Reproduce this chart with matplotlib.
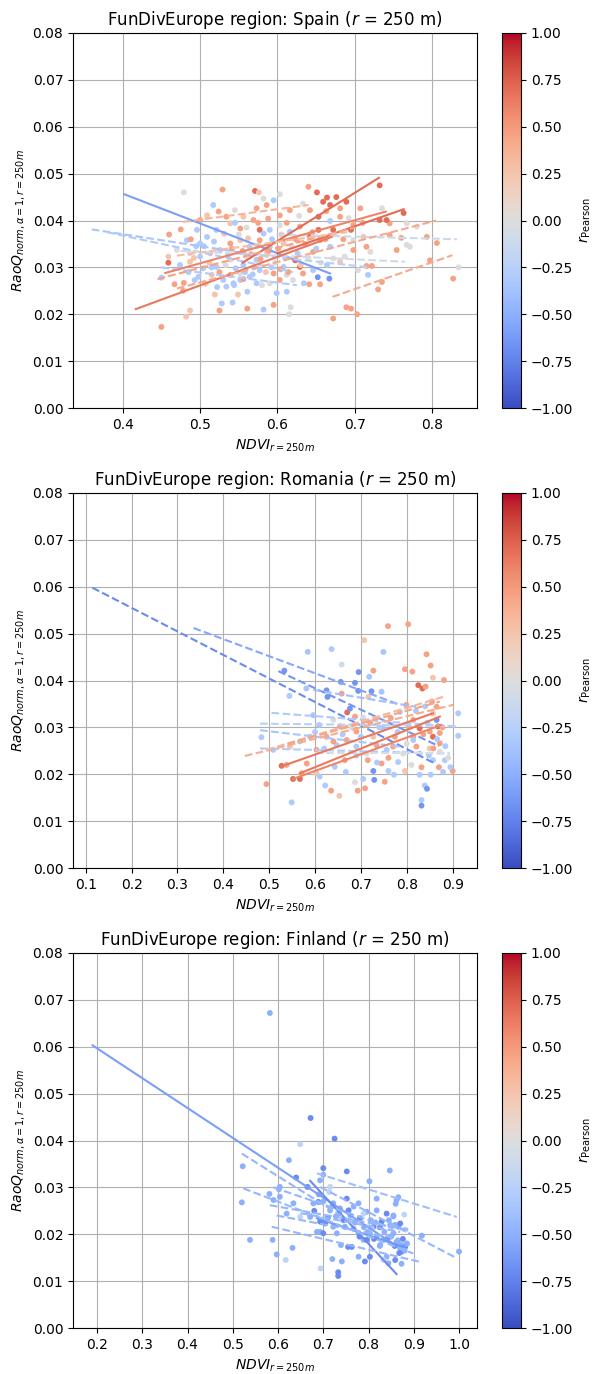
import matplotlib
matplotlib.use("Agg")
import matplotlib.pyplot as plt
import numpy as np
from matplotlib import cm, colors

# ---------------- DATA ----------------
titles = ["FunDivEurope region: Spain ($r$ = 250 m)",
          "FunDivEurope region: Romania ($r$ = 250 m)",
          "FunDivEurope region: Finland ($r$ = 250 m)"]
xlims = [(0.3358, 0.8578), (0.0723, 0.953), (0.1468, 1.0398)]
xticks = [[0.4, 0.5, 0.6, 0.7, 0.8],
          [0.1, 0.2, 0.3, 0.4, 0.5, 0.6, 0.7, 0.8, 0.9],
          [0.2, 0.3, 0.4, 0.5, 0.6, 0.7, 0.8, 0.9, 1.0]]
yticks = [0.00, 0.01, 0.02, 0.03, 0.04, 0.05, 0.06, 0.07, 0.08]
cbar_ticks = [-1.0, -0.75, -0.5, -0.25, 0.0, 0.25, 0.5, 0.75, 1.0]

# Spain points
spain_x = [0.479, 0.529, 0.571, 0.576, 0.603, 0.640, 0.651, 0.664, 0.676, 0.689, 0.659, 0.668, 0.732, 0.763,
           0.707, 0.735, 0.681, 0.767, 0.745, 0.741, 0.732, 0.760, 0.767, 0.771, 0.806, 0.797, 0.834, 0.827,
           0.715, 0.720, 0.715, 0.722, 0.704, 0.717, 0.735, 0.730, 0.689, 0.695, 0.703, 0.672, 0.450, 0.482,
           0.487, 0.525, 0.561, 0.582, 0.595, 0.615, 0.617, 0.528, 0.542, 0.519, 0.549, 0.561, 0.599, 0.612,
           0.634, 0.655, 0.641, 0.652, 0.667, 0.623, 0.629, 0.459, 0.460, 0.475, 0.459, 0.450, 0.467, 0.479,
           0.493, 0.478, 0.517, 0.524, 0.545, 0.556, 0.582, 0.595, 0.586, 0.616, 0.633, 0.642, 0.653, 0.668,
           0.681, 0.692, 0.698, 0.672, 0.653, 0.642, 0.655, 0.668, 0.646, 0.672, 0.687, 0.664, 0.681, 0.608,
           0.595, 0.612, 0.577, 0.564, 0.552, 0.539, 0.530, 0.543, 0.515, 0.504, 0.500, 0.487, 0.487, 0.474,
           0.509, 0.521, 0.539, 0.552, 0.569, 0.577, 0.588, 0.603, 0.616, 0.629, 0.625, 0.608, 0.590, 0.577,
           0.564, 0.552, 0.539, 0.526, 0.513, 0.560, 0.573, 0.586, 0.556, 0.539, 0.521, 0.534, 0.552, 0.573,
           0.590, 0.603, 0.620, 0.633, 0.646, 0.500, 0.509, 0.534, 0.496, 0.483, 0.500, 0.470, 0.573, 0.603,
           0.754, 0.745, 0.780, 0.793, 0.698, 0.711, 0.698,
           0.505, 0.512, 0.518, 0.525, 0.531, 0.536, 0.541, 0.546, 0.550, 0.555, 0.558, 0.562, 0.566, 0.570,
           0.574, 0.578, 0.582, 0.585, 0.589, 0.593, 0.597, 0.601, 0.605, 0.610, 0.614, 0.618, 0.622, 0.626,
           0.630, 0.636, 0.640, 0.645, 0.650, 0.656, 0.662, 0.498, 0.507, 0.515, 0.522, 0.533, 0.544, 0.556,
           0.568, 0.580, 0.592, 0.604, 0.485, 0.492, 0.495, 0.488, 0.545, 0.560, 0.575, 0.590, 0.612, 0.628,
           0.663, 0.685, 0.695, 0.710]
spain_y = [0.0460, 0.0466, 0.0463, 0.0460, 0.0456, 0.0472, 0.0460, 0.0449, 0.0450, 0.0440, 0.0440, 0.0433, 0.0475, 0.0416,
           0.0426, 0.0426, 0.0426, 0.0394, 0.0394, 0.0401, 0.0401, 0.0363, 0.0348, 0.0344, 0.0352, 0.0315, 0.0300, 0.0276,
           0.0344, 0.0333, 0.0303, 0.0303, 0.0294, 0.0284, 0.0269, 0.0253, 0.0215, 0.0212, 0.0200, 0.0191, 0.0173, 0.0195,
           0.0208, 0.0208, 0.0212, 0.0210, 0.0220, 0.0200, 0.0215, 0.0223, 0.0225, 0.0242, 0.0242, 0.0248, 0.0245, 0.0248,
           0.0266, 0.0264, 0.0264, 0.0279, 0.0276, 0.0315, 0.0301, 0.0310, 0.0370, 0.0381, 0.0323, 0.0278, 0.0264, 0.0267,
           0.0273, 0.0250, 0.0433, 0.0419, 0.0422, 0.0408, 0.0447, 0.0443, 0.0433, 0.0422, 0.0436, 0.0422, 0.0408, 0.0399,
           0.0408, 0.0405, 0.0390, 0.0380, 0.0380, 0.0366, 0.0358, 0.0344, 0.0333, 0.0319, 0.0323, 0.0305, 0.0312, 0.0301,
           0.0287, 0.0284, 0.0294, 0.0280, 0.0287, 0.0284, 0.0273, 0.0266, 0.0284, 0.0298, 0.0323, 0.0330, 0.0312, 0.0305,
           0.0365, 0.0380, 0.0394, 0.0383, 0.0401, 0.0380, 0.0404, 0.0390, 0.0376, 0.0387, 0.0358, 0.0351, 0.0344, 0.0358,
           0.0344, 0.0358, 0.0351, 0.0337, 0.0330, 0.0323, 0.0316, 0.0327, 0.0305, 0.0316, 0.0301, 0.0259, 0.0273, 0.0266,
           0.0266, 0.0273, 0.0273, 0.0287, 0.0294, 0.0401, 0.0411, 0.0408, 0.0380, 0.0358, 0.0351, 0.0337, 0.0426, 0.0411,
           0.0337, 0.0369, 0.0387, 0.0365, 0.0358, 0.0365, 0.0337,
           0.0345, 0.0310, 0.0355, 0.0290, 0.0372, 0.0325, 0.0340, 0.0298, 0.0370, 0.0335, 0.0290, 0.0362, 0.0328, 0.0300,
           0.0345, 0.0318, 0.0372, 0.0290, 0.0335, 0.0360, 0.0310, 0.0340, 0.0370, 0.0320, 0.0290, 0.0345, 0.0362, 0.0330,
           0.0305, 0.0350, 0.0320, 0.0375, 0.0340, 0.0310, 0.0360, 0.0280, 0.0265, 0.0300, 0.0258, 0.0305, 0.0262, 0.0275,
           0.0285, 0.0262, 0.0300, 0.0296, 0.0290, 0.0320, 0.0345, 0.0360, 0.0395, 0.0385, 0.0395, 0.0380, 0.0395, 0.0410,
           0.0420, 0.0360, 0.0380, 0.0395]
spain_r = [0.0, 0.45, 0.7, 0.25, 0.0, 0.45, 0.7, 0.7, 0.7, 0.7, 0.7, 0.7, 0.7, 0.7,
           0.45, 0.0, 0.45, 0.0, 0.45, 0.7, 0.7, 0.45, 0.0, 0.0, 0.45, 0.45, 0.0, 0.45,
           0.45, 0.0, 0.45, 0.45, 0.0, -0.3, 0.45, 0.45, 0.45, 0.45, 0.45, 0.45, 0.45, 0.25,
           0.25, 0.45, 0.45, -0.3, 0.45, 0.0, 0.0, -0.3, -0.3, 0.25, 0.25, -0.3, -0.3, -0.3,
           -0.3, 0.45, 0.45, -0.65, -0.65, 0.7, 0.7, 0.7, 0.45, 0.45, 0.25, -0.3, 0.45, 0.45,
           -0.3, 0.45, -0.3, 0.45, 0.0, 0.25, 0.0, -0.3, 0.45, 0.45, 0.0, 0.45, 0.7, -0.3,
           0.45, 0.0, 0.45, 0.7, 0.7, 0.7, 0.45, -0.3, 0.45, 0.0, 0.0, -0.3, 0.25, -0.3,
           0.45, 0.0, -0.3, -0.3, 0.0, 0.45, -0.3, -0.3, 0.25, -0.3, -0.3, 0.0, 0.25, -0.3,
           -0.3, -0.3, 0.25, 0.45, 0.45, 0.7, 0.45, 0.0, -0.3, 0.45, 0.45, 0.25, -0.3, 0.45,
           -0.3, 0.25, 0.45, -0.3, 0.25, 0.0, -0.3, 0.25, -0.3, 0.0, -0.3, -0.3, -0.3, -0.3,
           0.0, 0.45, 0.0, 0.45, -0.3, 0.45, 0.25, 0.45, -0.3, -0.3, -0.3, 0.0, 0.45, 0.45,
           0.45, 0.45, 0.0, 0.45, 0.0, 0.25, 0.45,
           -0.3, 0.25, -0.3, 0.45, 0.25, -0.3, 0.45, -0.3, 0.0, 0.45, -0.3, 0.25, 0.45, -0.3,
           0.0, 0.45, -0.3, 0.25, 0.45, -0.3, 0.0, 0.45, 0.25, -0.3, 0.45, 0.0, 0.45, -0.3,
           0.25, 0.45, 0.0, 0.45, -0.3, 0.0, 0.45, -0.3, 0.25, -0.3, -0.3, 0.0, -0.3, 0.45,
           -0.3, 0.0, -0.3, 0.45, -0.3, 0.25, -0.3, 0.45, -0.3, 0.0, 0.45, -0.3, 0.45, 0.0,
           0.45, 0.45, 0.7, 0.45]

# Spain regression lines
spain_lx0 = [0.402, 0.360, 0.380, 0.450, 0.475, 0.600, 0.550, 0.417, 0.555, 0.455, 0.600, 0.445, 0.470, 0.671, 0.478, 0.470]
spain_ly0 = [0.0456, 0.0381, 0.0375, 0.0300, 0.0335, 0.0370, 0.0330, 0.0211, 0.0310, 0.0288, 0.0330, 0.0275, 0.0255, 0.0237, 0.0397, 0.0325]
spain_lx1 = [0.668, 0.560, 0.620, 0.625, 0.765, 0.832, 0.720, 0.670, 0.731, 0.740, 0.763, 0.700, 0.805, 0.826, 0.640, 0.690]
spain_ly1 = [0.0287, 0.0330, 0.0290, 0.0262, 0.0312, 0.0360, 0.0300, 0.0365, 0.0491, 0.0419, 0.0424, 0.0385, 0.0400, 0.0326, 0.0433, 0.0375]
spain_lr = [-0.6, -0.35, -0.3, -0.3, -0.1, -0.12, -0.25, 0.65, 0.7, 0.6, 0.7, 0.45, 0.42, 0.42, 0.35, 0.3]
spain_lsolid = [True, False, False, False, False, False, False, True, True, True, True, False, False, False, False, False]

# Romania points
romania_x = [0.759, 0.803, 0.707, 0.584, 0.636, 0.658, 0.749, 0.533, 0.544, 0.695, 0.727, 0.718, 0.656, 0.687,
             0.625, 0.581, 0.694, 0.723, 0.745, 0.627, 0.658, 0.716, 0.796, 0.812, 0.843, 0.852, 0.857, 0.881,
             0.825, 0.834, 0.841, 0.670, 0.676, 0.596, 0.640, 0.687, 0.705, 0.609, 0.654, 0.690, 0.727, 0.749,
             0.774, 0.814, 0.828, 0.850, 0.857, 0.872, 0.865, 0.912, 0.912, 0.483, 0.509, 0.545, 0.567, 0.527,
             0.538, 0.552, 0.567, 0.571, 0.582, 0.603, 0.610, 0.643, 0.667, 0.622, 0.635, 0.653, 0.549, 0.494,
             0.687, 0.693, 0.709, 0.705, 0.727, 0.729, 0.752, 0.745, 0.760, 0.772, 0.796, 0.810, 0.832, 0.828,
             0.852, 0.839, 0.844, 0.832, 0.832, 0.879, 0.900, 0.883, 0.872, 0.850, 0.828, 0.814, 0.792, 0.770,
             0.756, 0.734, 0.712, 0.690, 0.669, 0.647, 0.625, 0.603, 0.589, 0.857, 0.865, 0.814, 0.785, 0.763,
             0.799, 0.872, 0.868, 0.821, 0.857, 0.781,
             0.805, 0.820, 0.836, 0.845, 0.858, 0.866, 0.878, 0.884, 0.890, 0.895, 0.870, 0.848, 0.800, 0.780,
             0.765, 0.740, 0.720, 0.700, 0.680, 0.660, 0.640, 0.620, 0.600, 0.760, 0.735, 0.715, 0.690, 0.665,
             0.855, 0.840]
romania_y = [0.0516, 0.0520, 0.0486, 0.0461, 0.0467, 0.0434, 0.0461, 0.0421, 0.0367, 0.0418, 0.0421, 0.0408, 0.0397, 0.0395,
             0.0379, 0.0383, 0.0378, 0.0377, 0.0376, 0.0365, 0.0372, 0.0365, 0.0424, 0.0419, 0.0456, 0.0432, 0.0406, 0.0401,
             0.0390, 0.0383, 0.0387, 0.0332, 0.0340, 0.0326, 0.0316, 0.0323, 0.0321, 0.0305, 0.0302, 0.0291, 0.0280, 0.0298,
             0.0280, 0.0280, 0.0298, 0.0291, 0.0280, 0.0288, 0.0316, 0.0330, 0.0282, 0.0279, 0.0252, 0.0259, 0.0270, 0.0218,
             0.0220, 0.0190, 0.0190, 0.0202, 0.0223, 0.0202, 0.0195, 0.0216, 0.0205, 0.0176, 0.0165, 0.0154, 0.0140, 0.0179,
             0.0183, 0.0165, 0.0170, 0.0190, 0.0207, 0.0188, 0.0184, 0.0223, 0.0207, 0.0199, 0.0207, 0.0220, 0.0215, 0.0199,
             0.0199, 0.0176, 0.0169, 0.0145, 0.0133, 0.0205, 0.0207, 0.0230, 0.0248, 0.0255, 0.0244, 0.0273, 0.0244, 0.0259,
             0.0252, 0.0262, 0.0244, 0.0259, 0.0273, 0.0262, 0.0280, 0.0252, 0.0280, 0.0330, 0.0344, 0.0316, 0.0333, 0.0307,
             0.0348, 0.0266, 0.0302, 0.0259, 0.0230, 0.0226,
             0.0300, 0.0335, 0.0285, 0.0310, 0.0255, 0.0275, 0.0300, 0.0260, 0.0235, 0.0215, 0.0215, 0.0240, 0.0265, 0.0290,
             0.0320, 0.0300, 0.0310, 0.0280, 0.0300, 0.0285, 0.0270, 0.0255, 0.0290, 0.0235, 0.0225, 0.0230, 0.0240, 0.0230,
             0.0355, 0.0345]
romania_r = [0.45, 0.45, 0.25, -0.35, -0.3, -0.1, -0.35, -0.65, -0.3, -0.65, 0.45, -0.35, -0.65, -0.65,
             -0.65, -0.35, -0.65, -0.65, -0.35, -0.65, 0.45, 0.25, 0.45, 0.45, 0.45, 0.45, 0.25, 0.45,
             0.7, 0.7, 0.45, 0.7, -0.65, -0.35, 0.0, 0.45, 0.0, -0.35, 0.45, 0.45, 0.25, -0.35,
             0.45, 0.45, 0.7, 0.45, 0.7, 0.45, -0.65, -0.3, -0.3, -0.3, -0.3, 0.25, -0.3, 0.7,
             0.45, 0.7, 0.7, 0.45, 0.45, 0.25, -0.3, -0.3, -0.3, -0.3, 0.45, 0.25, -0.3, 0.45,
             0.0, 0.45, 0.45, -0.3, -0.65, -0.65, 0.45, 0.45, -0.3, -0.3, 0.25, 0.0, 0.45, -0.3,
             -0.3, -0.3, -0.65, -0.3, -0.65, -0.3, 0.45, -0.3, 0.0, 0.25, -0.3, -0.3, 0.0, 0.45,
             -0.3, 0.45, 0.0, -0.3, 0.45, -0.3, 0.45, 0.45, -0.3, 0.25, 0.45, 0.45, -0.3, 0.0,
             0.45, 0.45, 0.7, 0.45, -0.3, -0.3,
             0.45, -0.3, 0.45, -0.3, 0.45, -0.3, 0.45, -0.3, 0.0, -0.3, 0.45, -0.3, 0.0, -0.3,
             0.45, -0.3, 0.45, -0.3, 0.0, -0.3, 0.45, -0.3, -0.3, 0.45, -0.3, 0.45, -0.3, 0.45,
             0.45, -0.3]

romania_lx0 = [0.1144, 0.335, 0.520, 0.505, 0.480, 0.480, 0.480, 0.600, 0.596, 0.447, 0.494, 0.540, 0.527, 0.567, 0.552]
romania_ly0 = [0.0598, 0.0512, 0.0420, 0.0331, 0.0308, 0.0294, 0.0255, 0.0245, 0.0380, 0.0239, 0.0252, 0.0265, 0.0217, 0.0202, 0.0190]
romania_lx1 = [0.857, 0.785, 0.870, 0.908, 0.908, 0.785, 0.894, 0.894, 0.820, 0.901, 0.879, 0.872, 0.857, 0.872, 0.875]
romania_ly1 = [0.0225, 0.0348, 0.0260, 0.0301, 0.0303, 0.0259, 0.0244, 0.0245, 0.0344, 0.0348, 0.0365, 0.0355, 0.0330, 0.0323, 0.0305]
romania_lr = [-0.7, -0.55, -0.65, -0.3, -0.25, -0.35, -0.3, -0.05, -0.4, 0.4, 0.35, 0.45, 0.65, 0.65, 0.6]
romania_lsolid = [False, False, False, False, False, False, False, False, False, False, False, False, True, True, True]

# Finland points
finland_x = [0.672, 0.725, 0.649, 0.624, 0.522, 0.520, 0.538, 0.588, 0.597, 0.617, 0.632, 0.694, 0.733, 0.733,
             0.720, 0.741, 0.640, 0.665, 0.700, 0.700, 0.752, 0.802, 0.847, 0.866, 0.879, 0.918, 1.000, 0.581,
             0.602, 0.604, 0.689, 0.713, 0.693, 0.704, 0.693, 0.700, 0.728, 0.752, 0.756, 0.730, 0.739, 0.755,
             0.763, 0.778, 0.796, 0.781, 0.778, 0.789, 0.792, 0.803, 0.778, 0.818, 0.829, 0.840, 0.833, 0.842,
             0.848, 0.859, 0.866, 0.855, 0.862, 0.873, 0.881, 0.885, 0.873, 0.859, 0.840, 0.844, 0.873, 0.833,
             0.811, 0.803, 0.796, 0.818, 0.807, 0.767, 0.748, 0.722, 0.686, 0.671, 0.715, 0.737, 0.649, 0.619,
             0.634, 0.678, 0.767, 0.789, 0.862, 0.855, 0.870, 0.826, 0.818, 0.693, 0.715, 0.722, 0.604, 0.590,
             0.582,
             0.850, 0.858, 0.865, 0.870, 0.876, 0.880, 0.884, 0.868, 0.835, 0.825, 0.815, 0.805, 0.790, 0.780,
             0.770, 0.760, 0.745, 0.735, 0.720, 0.710, 0.700, 0.690, 0.680, 0.845, 0.855, 0.825, 0.812, 0.798,
             0.882, 0.860]
finland_y = [0.0448, 0.0404, 0.0392, 0.0358, 0.0345, 0.0268, 0.0188, 0.0188, 0.0157, 0.0145, 0.0171, 0.0127, 0.0119, 0.0111,
             0.0147, 0.0142, 0.0321, 0.0301, 0.0341, 0.0327, 0.0334, 0.0313, 0.0336, 0.0279, 0.0242, 0.0197, 0.0163, 0.0286,
             0.0296, 0.0280, 0.0269, 0.0290, 0.0227, 0.0223, 0.0205, 0.0202, 0.0238, 0.0276, 0.0251, 0.0202, 0.0177, 0.0173,
             0.0173, 0.0266, 0.0248, 0.0234, 0.0202, 0.0188, 0.0142, 0.0152, 0.0152, 0.0276, 0.0227, 0.0244, 0.0188, 0.0191,
             0.0220, 0.0220, 0.0216, 0.0202, 0.0184, 0.0177, 0.0173, 0.0180, 0.0163, 0.0145, 0.0152, 0.0138, 0.0137, 0.0145,
             0.0216, 0.0202, 0.0188, 0.0194, 0.0213, 0.0212, 0.0216, 0.0216, 0.0205, 0.0237, 0.0251, 0.0255, 0.0237, 0.0244,
             0.0266, 0.0266, 0.0259, 0.0244, 0.0273, 0.0238, 0.0223, 0.0177, 0.0251, 0.0315, 0.0301, 0.0266, 0.0301, 0.0273,
             0.0672,
             0.0195, 0.0175, 0.0185, 0.0170, 0.0190, 0.0165, 0.0180, 0.0160, 0.0205, 0.0215, 0.0225, 0.0230, 0.0215, 0.0195,
             0.0225, 0.0240, 0.0230, 0.0245, 0.0260, 0.0235, 0.0270, 0.0285, 0.0250, 0.0230, 0.0240, 0.0175, 0.0190, 0.0205,
             0.0210, 0.0265]
finland_r = [-0.7, -0.7, -0.2, -0.5, -0.5, -0.5, -0.5, -0.5, -0.5, -0.2, -0.5, -0.2, -0.7, -0.7,
             -0.5, -0.5, -0.7, -0.7, -0.7, -0.5, -0.7, -0.5, -0.5, -0.5, -0.2, -0.5, -0.5, -0.5,
             -0.5, -0.5, -0.7, -0.2, -0.7, -0.7, -0.5, -0.7, -0.5, -0.7, -0.7, -0.5, -0.5, -0.7,
             -0.7, -0.5, -0.5, -0.7, -0.5, -0.5, -0.7, -0.7, -0.5, -0.5, -0.7, -0.7, -0.5, -0.7,
             -0.5, -0.5, -0.5, -0.5, -0.5, -0.5, -0.7, -0.5, -0.7, -0.7, -0.5, -0.5, -0.5, -0.2,
             -0.7, -0.5, -0.7, -0.5, -0.2, -0.5, -0.5, -0.5, -0.5, -0.5, -0.5, -0.5, -0.2, -0.5,
             -0.5, -0.5, -0.5, -0.2, -0.5, -0.5, -0.7, -0.5, -0.5, -0.5, -0.2, -0.5, -0.5, -0.5,
             -0.5,
             -0.5, -0.7, -0.5, -0.5, -0.7, -0.5, -0.5, -0.7, -0.5, -0.7, -0.5, -0.5, -0.5, -0.7,
             -0.5, -0.5, -0.7, -0.5, -0.5, -0.7, -0.5, -0.5, -0.7, -0.5, -0.5, -0.5, -0.7, -0.5,
             -0.2, -0.5]

finland_lx0 = [0.190, 0.671, 0.686, 0.520, 0.523, 0.586, 0.686, 0.693, 0.582, 0.597, 0.590, 0.650]
finland_ly0 = [0.0603, 0.0314, 0.0234, 0.0372, 0.0298, 0.0216, 0.0330, 0.0301, 0.0262, 0.0240, 0.0300, 0.0245]
finland_lx1 = [0.870, 0.862, 0.877, 0.767, 0.899, 0.914, 0.995, 0.995, 0.892, 0.870, 0.855, 0.870]
finland_ly1 = [0.0170, 0.0115, 0.0173, 0.0223, 0.0159, 0.0141, 0.0237, 0.0149, 0.0209, 0.0190, 0.0212, 0.0205]
finland_lr = [-0.6, -0.7, -0.65, -0.45, -0.45, -0.45, -0.4, -0.45, -0.45, -0.45, -0.45, -0.45]
finland_lsolid = [True, True, True, False, False, False, False, False, False, False, False, False]

# ---------------- PLOT ----------------
W, H = 594, 1374
fig = plt.figure(figsize=(W / 100, H / 100), dpi=100)
cmap = plt.get_cmap("coolwarm")
norm = colors.Normalize(vmin=-1, vmax=1)

panels = [
    (spain_x, spain_y, spain_r, spain_lx0, spain_ly0, spain_lx1, spain_ly1, spain_lr, spain_lsolid),
    (romania_x, romania_y, romania_r, romania_lx0, romania_ly0, romania_lx1, romania_ly1, romania_lr, romania_lsolid),
    (finland_x, finland_y, finland_r, finland_lx0, finland_ly0, finland_lx1, finland_ly1, finland_lr, finland_lsolid),
]
tops = [33, 493, 953]   # pixel top of each axes
ax_left, ax_right, ax_h = 73, 477, 375
cb_left, cb_w = 502, 19

for i, (px, py, pr, lx0, ly0, lx1, ly1, lr, ls) in enumerate(panels):
    bottom = (H - tops[i] - ax_h) / H
    ax = fig.add_axes([ax_left / W, bottom, (ax_right - ax_left) / W, ax_h / H])
    ax.grid(True, color="#b0b0b0", linewidth=0.8)
    ax.set_axisbelow(True)
    ax.scatter(px, py, c=pr, cmap=cmap, norm=norm, s=18, linewidths=0, zorder=2)
    for x0, y0, x1, y1, r, solid in zip(lx0, ly0, lx1, ly1, lr, ls):
        ax.plot([x0, x1], [y0, y1], color=cmap(norm(r)), lw=1.5,
                linestyle="-" if solid else "--", zorder=3)
    ax.set_xlim(*xlims[i])
    ax.set_ylim(0, 0.08)
    ax.set_xticks(xticks[i])
    ax.set_yticks(yticks)
    ax.set_yticklabels([f"{t:.2f}" for t in yticks])
    ax.set_xticklabels([f"{t:.1f}" for t in xticks[i]])
    ax.set_title(titles[i], fontsize=12)
    ax.set_xlabel(r"$NDVI_{r=250m}$")
    ax.set_ylabel(r"$RaoQ_{norm,\alpha=1,r=250m}$")

    cax = fig.add_axes([cb_left / W, bottom, cb_w / W, ax_h / H])
    sm = cm.ScalarMappable(norm=norm, cmap=cmap)
    cb = fig.colorbar(sm, cax=cax, ticks=cbar_ticks)
    cb.ax.set_yticklabels([f"{t:.2f}".replace("-", "\u2212") for t in cbar_ticks])
    cb.set_label(r"$r_{\mathrm{Pearson}}$", labelpad=3)

fig.savefig("out.png", dpi=100)
